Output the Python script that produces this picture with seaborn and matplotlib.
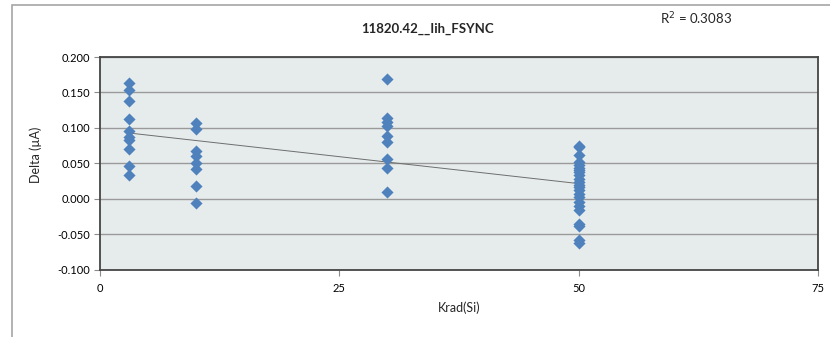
"""Delta vs. total dose scatter with a linear trend line (Excel-style look)."""
import numpy as np
import pandas as pd
import matplotlib
matplotlib.use("Agg")
import matplotlib.pyplot as plt
from matplotlib.patches import Rectangle
from matplotlib.ticker import FormatStrFormatter
import seaborn as sns

# values
dose_levels = [3, 10, 30, 50]
delta_3 = [0.164, 0.1535, 0.1385, 0.113, 0.0958, 0.087, 0.083, 0.0705, 0.0455, 0.0334]
delta_10 = [0.1066, 0.0982, 0.068, 0.0597, 0.0503, 0.0418, 0.0183, -0.006]
delta_30 = [0.169, 0.1137, 0.1089, 0.1028, 0.0887, 0.0807, 0.056, 0.0433, 0.009]
delta_50 = [0.075, 0.073, 0.062, 0.052, 0.047, 0.044, 0.041, 0.037, 0.033, 0.028,
            0.024, 0.020, 0.016, 0.012, 0.007, 0.002, -0.004, -0.010, -0.016,
            -0.036, -0.039, -0.059, -0.063]
x_ticks = [0, 25, 50, 75]
y_ticks = [-0.100, -0.050, 0.000, 0.050, 0.100, 0.150, 0.200]
title = "11820.42__Iih_FSYNC"
r2_label = "R$^2$ = 0.3083"

groups = [delta_3, delta_10, delta_30, delta_50]
df = pd.DataFrame({
    "krad": np.concatenate([[d] * len(g) for d, g in zip(dose_levels, groups)]),
    "delta": np.concatenate(groups),
})

sns.set_style("white")
plt.rcParams["font.family"] = ["Lato", "DejaVu Sans"]

fig = plt.figure(figsize=(8.3, 3.37), dpi=100)
ax = fig.add_axes([100 / 830, 67.5 / 337, 718 / 830, 212.5 / 337])
ax.set_facecolor("#E6ECEC")

ax.set_axisbelow(True)
ax.yaxis.grid(True, color="#9A9A9A", linewidth=1.0)
ax.xaxis.grid(False)

sns.regplot(data=df, x="krad", y="delta", scatter=False, ci=None, truncate=True,
            line_kws={"color": "#6E6E6E", "linewidth": 0.7}, ax=ax)
sns.scatterplot(data=df, x="krad", y="delta", marker="D", s=38, color="#4F81BD",
                edgecolor="#4F81BD", linewidth=0, zorder=3, ax=ax)

ax.set_xlim(0, 75)
ax.set_ylim(-0.1, 0.2)
ax.set_xticks(x_ticks)
ax.set_yticks(y_ticks)
ax.yaxis.set_major_formatter(FormatStrFormatter("%.3f"))
ax.tick_params(axis="both", direction="out", length=4, width=0.8, color="#8C8C8C",
               labelsize=8, labelcolor="#000000", left=True, bottom=True)
ax.tick_params(axis="x", pad=6)
ax.tick_params(axis="y", pad=3)

for side in ["left", "right", "top", "bottom"]:
    ax.spines[side].set_visible(True)
    ax.spines[side].set_color("#454545")
    ax.spines[side].set_linewidth(1.3)

ax.set_xlabel("Krad(Si)", fontsize=9)
ax.set_ylabel("Delta (\u00b5A)", fontsize=9)
ax.xaxis.set_label_coords(0.5, -0.15)
ax.yaxis.set_label_coords(-0.081, 0.54)

fig.text(427 / 830, 1 - 29 / 337, title, ha="center", va="center",
         fontsize=9.5, fontweight="bold")
fig.text(660 / 830, 1 - 19 / 337, r2_label, ha="left", va="center", fontsize=9.5)

# chart area border
fig.patches.append(Rectangle((12 / 830, -0.2), 1.2, 1.2 - 5 / 337, transform=fig.transFigure,
                             fill=False, edgecolor="#A6A6A6", linewidth=1.2))

fig.savefig("out.png", dpi=100)
